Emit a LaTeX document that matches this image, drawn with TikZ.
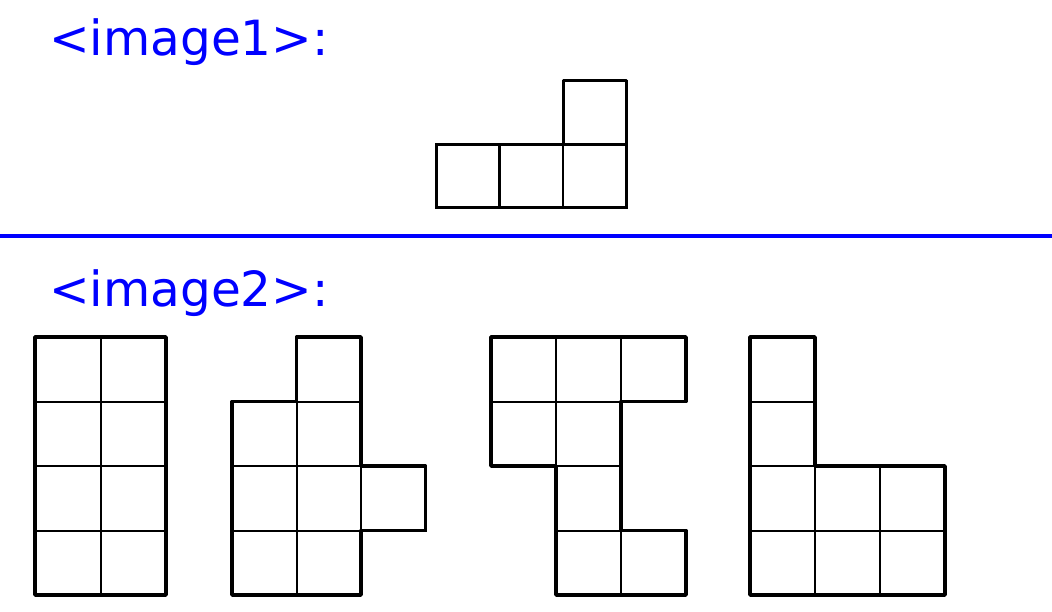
\documentclass[tikz,border=0pt]{standalone}
\usepackage{fontspec}
\setmainfont{DejaVu Sans}
\begin{document}
\begin{tikzpicture}[x=1pt,y=-1pt,
  lbl/.style={anchor=base west,inner sep=0pt,text=blue,font=\fontsize{48.5}{52}\selectfont},
  thin grid/.style={line width=2pt,black},
  outline/.style={line width=3.5pt,black,line join=round,line cap=round},
  sep/.style={line width=4pt,blue}]
\useasboundingbox[fill=white] (0,0) rectangle (1052,612);
% labels
\node[lbl] (l1) at (49,56) {<image1>:};
\node[lbl] (l2) at (49,307) {<image2>:};
% separator
\coordinate (sl) at (0,236);
\coordinate (sr) at (1052,236);
\draw[sep] (sl) -- (sr);
% image1 piece
\begin{scope}[shift={(436pt,-81pt)},x=63.5pt,y=-63.5pt]
  \foreach \c/\r in {0/1,1/1,2/1,2/0} \draw[line width=2.6pt] (\c,\r) rectangle ++(1,1);
  \draw[line width=3pt,line join=round] (0,1)--(2,1)--(2,0)--(3,0)--(3,2)--(0,2)--cycle;
\end{scope}
% piece A
\begin{scope}[shift={(35pt,-337pt)},x=65.5pt,y=-64.5pt]
  \foreach \c/\r in {0/0,1/0,0/1,1/1,0/2,1/2,0/3,1/3} \draw[thin grid] (\c,\r) rectangle ++(1,1);
  \draw[outline] (0,0) rectangle (2,4);
\end{scope}
% piece B
\begin{scope}[shift={(232pt,-337pt)},x=64.5pt,y=-64.5pt]
  \foreach \c/\r in {1/0,0/1,1/1,0/2,1/2,2/2,0/3,1/3} \draw[thin grid] (\c,\r) rectangle ++(1,1);
  \draw[outline] (1,0)--(2,0)--(2,2)--(3,2)--(3,3)--(2,3)--(2,4)--(0,4)--(0,1)--(1,1)--cycle;
\end{scope}
% piece C
\begin{scope}[shift={(491pt,-337pt)},x=65pt,y=-64.5pt]
  \foreach \c/\r in {0/0,1/0,2/0,0/1,1/1,1/2,1/3,2/3} \draw[thin grid] (\c,\r) rectangle ++(1,1);
  \draw[outline] (0,0)--(3,0)--(3,1)--(2,1)--(2,3)--(3,3)--(3,4)--(1,4)--(1,2)--(0,2)--cycle;
\end{scope}
% piece D
\begin{scope}[shift={(750pt,-337pt)},x=65pt,y=-64.5pt]
  \foreach \c/\r in {0/0,0/1,0/2,1/2,2/2,0/3,1/3,2/3} \draw[thin grid] (\c,\r) rectangle ++(1,1);
  \draw[outline] (0,0)--(1,0)--(1,2)--(3,2)--(3,4)--(0,4)--cycle;
\end{scope}
\end{tikzpicture}
\end{document}
